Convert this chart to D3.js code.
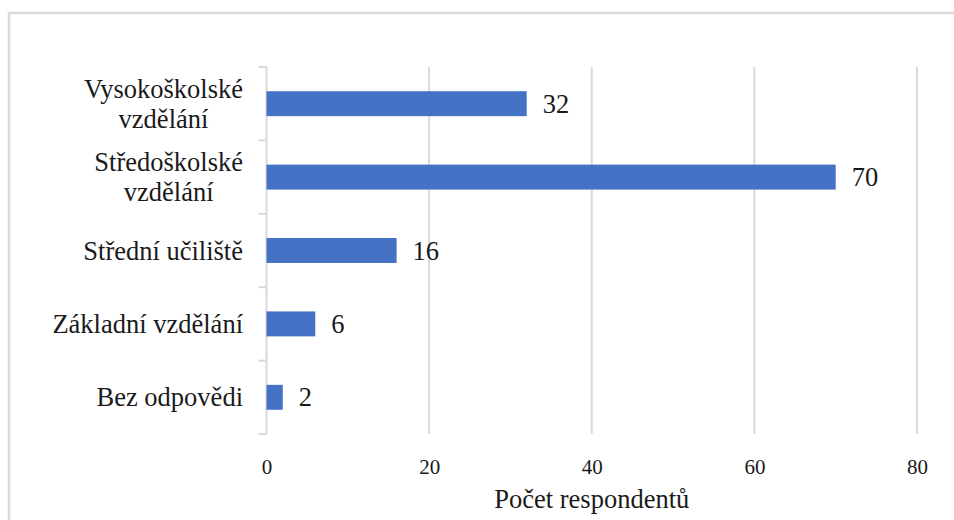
<!DOCTYPE html>
<html>
<head>
<meta charset="utf-8">
<script src="https://cdn.jsdelivr.net/npm/d3@7"></script>
<style>
  html, body { margin: 0; padding: 0; background: #fff; }
  svg { display: block; }
</style>
</head>
<body>
<svg id="chart" width="954" height="520"></svg>
<script>
// categories top to bottom, "\n" marks where Excel wrapped the label
var categories = ["Vysokoškolské\nvzdělání", "Středoškolské\nvzdělání", "Střední učiliště", "Základní vzdělání", "Bez odpovědi"];
var values = [32, 70, 16, 6, 2];
var xTicks = [0, 20, 40, 60, 80];
var xTitle = "Počet respondentů";

var width = 954, height = 520;
var plot = {left: 266.5, right: 917, top: 67, bottom: 434};
var serif = "'Liberation Serif', 'Times New Roman', Tinos, 'DejaVu Serif', serif";
var ink = "#1a1a1a";
var labelSize = 26.5;

var svg = d3.select("#chart")
    .attr("font-family", serif);

// chart area frame (runs off the right and bottom of the picture)
svg.append("rect")
    .attr("x", 9).attr("y", 13)
    .attr("width", width + 20).attr("height", height + 20)
    .attr("fill", "#fff")
    .attr("stroke", "#d9d9d9")
    .attr("stroke-width", 2.5);

var x = d3.scaleLinear().domain([0, 80]).range([plot.left, plot.right]);
var y = d3.scaleBand().domain(categories).range([plot.top, plot.bottom])
    .paddingInner(0.66).paddingOuter(0.33);

// vertical gridlines
svg.append("g").selectAll("line")
    .data(xTicks.filter(function(t){ return t !== 0; }))
    .enter().append("line")
    .attr("x1", function(d){ return x(d); })
    .attr("x2", function(d){ return x(d); })
    .attr("y1", plot.top).attr("y2", plot.bottom)
    .attr("stroke", "#d9d9d9").attr("stroke-width", 2);

// category axis line and ticks at band edges
var ax = svg.append("g");
ax.append("line")
    .attr("x1", x(0)).attr("x2", x(0))
    .attr("y1", plot.top).attr("y2", plot.bottom)
    .attr("stroke", "#d9d9d9").attr("stroke-width", 2);
var step = y.step();
var edges = d3.range(categories.length + 1).map(function(i){ return plot.top + i * step; });
ax.selectAll("line.tick").data(edges).enter().append("line")
    .attr("class", "tick")
    .attr("x1", x(0) - 8).attr("x2", x(0))
    .attr("y1", function(d){ return d; }).attr("y2", function(d){ return d; })
    .attr("stroke", "#d9d9d9").attr("stroke-width", 2);

// bars
svg.append("g").selectAll("rect")
    .data(values)
    .enter().append("rect")
    .attr("x", x(0))
    .attr("y", function(d, i){ return y(categories[i]); })
    .attr("width", function(d){ return x(d) - x(0); })
    .attr("height", y.bandwidth())
    .attr("fill", "#4472c4");

// value labels
svg.append("g").selectAll("text")
    .data(values)
    .enter().append("text")
    .attr("x", function(d){ return x(d) + 16; })
    .attr("y", function(d, i){ return y(categories[i]) + y.bandwidth() / 2 + 9; })
    .attr("font-size", labelSize)
    .attr("fill", ink)
    .text(function(d){ return d; });

// category labels: single lines right-aligned, wrapped ones centred on their block
var labelRight = x(0) - 23.5;
var lineH = 30;
categories.forEach(function(c, i){
    var lines = c.split("\n");
    var cy = y(c) + y.bandwidth() / 2;
    var t = svg.append("text").attr("font-size", labelSize).attr("fill", ink);
    lines.forEach(function(l, j){
        t.append("tspan")
            .attr("x", 0)
            .attr("y", cy + 9 + (j - (lines.length - 1) / 2) * lineH)
            .text(l);
    });
    if (lines.length === 1) {
        t.attr("text-anchor", "end").selectAll("tspan").attr("x", labelRight);
    } else {
        var w = t.node().getBBox().width;
        t.attr("text-anchor", "middle").selectAll("tspan").attr("x", labelRight - w / 2);
    }
});

// value axis
var xAxis = svg.append("g")
    .attr("transform", "translate(0," + plot.bottom + ")")
    .call(d3.axisBottom(x).tickValues(xTicks).tickSize(0).tickPadding(0));
xAxis.attr("font-family", serif).attr("font-size", 21);
xAxis.select(".domain").remove();
xAxis.selectAll("text")
    .attr("y", 40).attr("dy", 0)
    .attr("fill", ink);

svg.append("text")
    .attr("x", (plot.left + plot.right) / 2)
    .attr("y", 508)
    .attr("text-anchor", "middle")
    .attr("font-size", labelSize)
    .attr("fill", ink)
    .text(xTitle);
</script>
</body>
</html>
